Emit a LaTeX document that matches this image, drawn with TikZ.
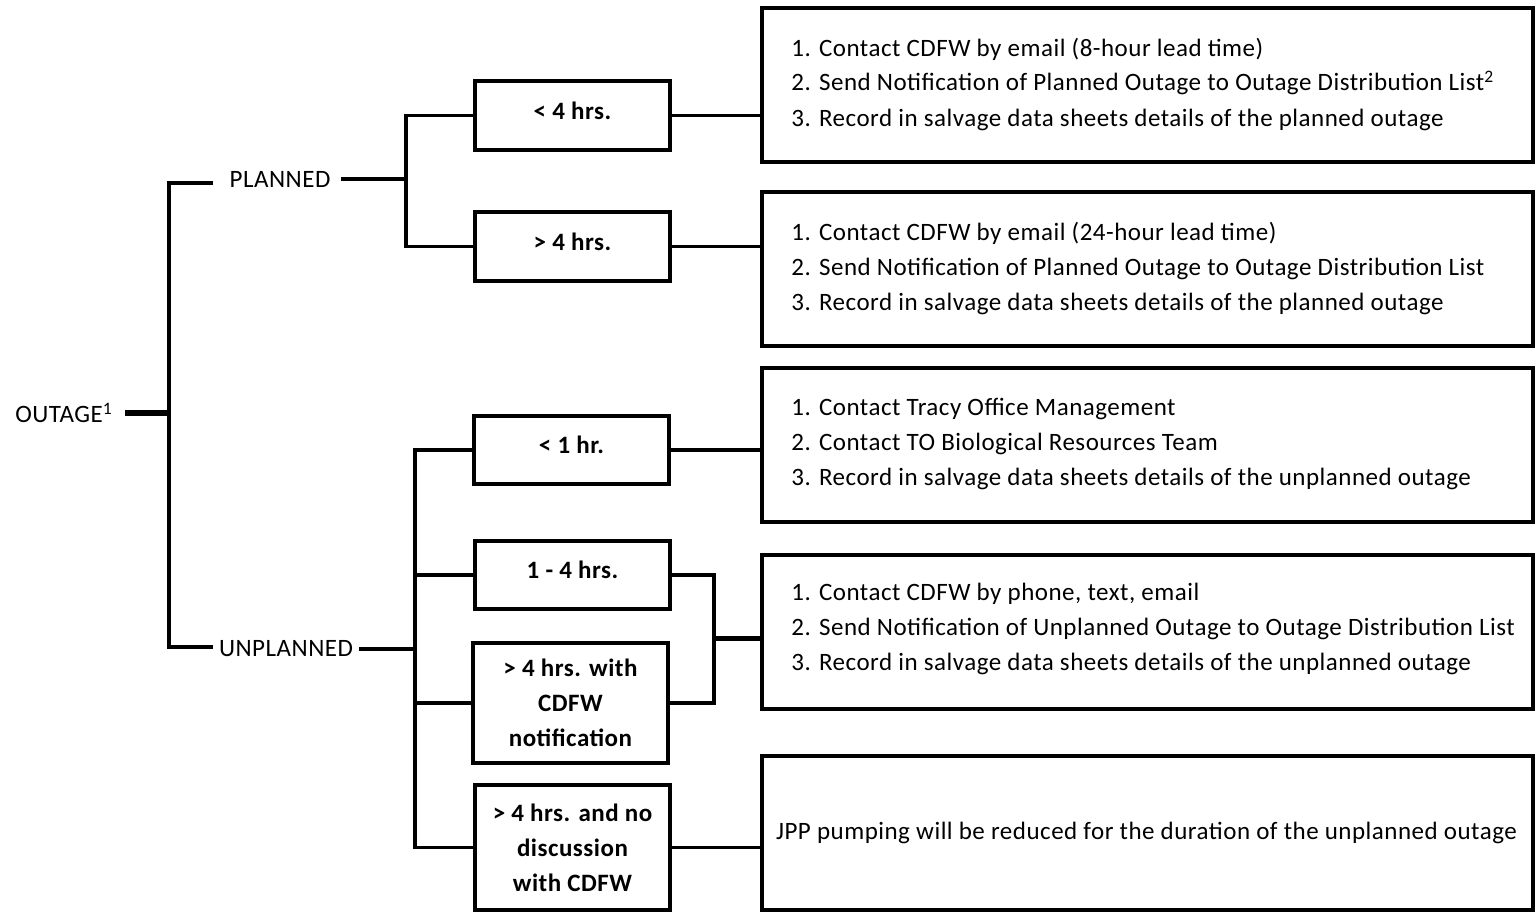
\documentclass[tikz,border=0pt]{standalone}
\usepackage{fontspec}
\setmainfont{Carlito}[LetterSpace=2]
\begin{document}
\begin{tikzpicture}[x=0.5pt,y=-0.5pt,
  box/.style={draw,line width=2pt,minimum width=97.5pt,inner sep=0pt},
  boxtxt/.style={font=\fontsize{12.5}{17.5}\selectfont\bfseries,align=center,inner sep=0pt},
  big/.style={draw,line width=2pt,minimum width=385.5pt,minimum height=77pt,inner sep=0pt},
  conn/.style={line width=1.8pt},
  lbl/.style={font=\fontsize{12.5}{17.5}\selectfont,inner sep=0pt},
  steps/.style={font=\fontsize{12.5}{17.5}\selectfont,align=left,anchor=west,inner sep=0pt}]
\useasboundingbox (0,0) rectangle (1537,911);

% left labels
\node[lbl] (outage) at (64,413) {OUTAGE\textsuperscript{1}};
\node[lbl] (planned) at (280,179) {PLANNED};
\node[lbl] (unplanned) at (286,649) {UNPLANNED};

% duration boxes
\node[box,minimum height=34.5pt] (b1) at (572.5,115.5) {};
\node[box,minimum height=34.5pt] (b2) at (572.5,246.5) {};
\node[box,minimum height=34pt] (b3) at (571.5,450) {};
\node[box,minimum height=34pt] (b4) at (572.5,575) {};
\node[box,minimum height=60pt] (b5) at (570.5,703) {};
\node[box,minimum height=62.5pt] (b6) at (572.5,847.5) {};
\node[boxtxt] (l1) at ([yshift=2.5pt]b1.center) {< 4 hrs.};
\node[boxtxt] (l2) at ([yshift=2.5pt]b2.center) {> 4 hrs.};
\node[boxtxt] (l3) at ([yshift=2.5pt]b3.center) {< 1 hr.};
\node[boxtxt] (l4) at ([yshift=2.5pt]b4.center) {1 - 4 hrs.};
\node[boxtxt] (l5) at (b5.center) {> 4 hrs. with\\CDFW\\notification};
\node[boxtxt] (l6) at (b6.center) {> 4 hrs. and no\\discussion\\with CDFW};

% action boxes
\node[big] (r1) at (1147.5,85) {};
\node[big] (r2) at (1147.5,269) {};
\node[big] (r3) at (1147.5,444.5) {};
\node[big] (r4) at (1147.5,631.5) {};
\node[big] (r5) at (1147.5,833) {};

\node[steps] (t1) at (791,84) {1. Contact CDFW by email (8-hour lead time)\\2. Send Notification of Planned Outage to Outage Distribution List\textsuperscript{2}\\3. Record in salvage data sheets details of the planned outage};
\node[steps] (t2) at (791,268) {1. Contact CDFW by email (24-hour lead time)\\2. Send Notification of Planned Outage to Outage Distribution List\\3. Record in salvage data sheets details of the planned outage};
\node[steps] (t3) at (791,444) {1. Contact Tracy Office Management\\2. Contact TO Biological Resources Team\\3. Record in salvage data sheets details of the unplanned outage};
\node[steps] (t4) at (791,629) {1. Contact CDFW by phone, text, email\\2. Send Notification of Unplanned Outage to Outage Distribution List\\3. Record in salvage data sheets details of the unplanned outage};
\node[lbl] (t5) at (1146.5,833) {JPP pumping will be reduced for the duration of the unplanned outage};

% trunk
\coordinate (oj) at (169,413);
\coordinate (tTop) at (169,183);
\coordinate (tBot) at (169,647);
\coordinate (pt) at (213,183);
\coordinate (ut) at (213,647);
\draw[line width=3pt] ([xshift=6pt]outage.east) -- (oj);
\draw[conn] (pt) -- (tTop) -- (tBot) -- (ut);

% planned branch
\coordinate (pj) at (406,179);
\draw[conn] ([xshift=5pt]planned.east) -- (pj);
\draw[conn] (b1.west) -- (b1.west -| pj) -- (b2.west -| pj) -- (b2.west);

% unplanned branch
\coordinate (uj) at (415,649);
\draw[conn] ([xshift=3pt]unplanned.east) -- (uj);
\draw[conn] (b3.west) -- (b3.west -| uj) -- (b6.west -| uj) -- (b6.west);
\draw[conn] (b4.west) -- (b4.west -| uj);
\draw[conn] (b5.west) -- (b5.west -| uj);

% to actions
\draw[conn] (b1.east) -- (b1.east -| r1.west);
\draw[conn] (b2.east) -- (b2.east -| r2.west);
\draw[conn] (b3.east) -- (b3.east -| r3.west);
\coordinate (bj) at (714,638);
\draw[conn] (b4.east) -- (b4.east -| bj) -- (b5.east -| bj) -- (b5.east);
\draw[line width=2.5pt] (bj) -- (bj -| r4.west);
\draw[conn] (b6.east) -- (b6.east -| r5.west);
\end{tikzpicture}
\end{document}
